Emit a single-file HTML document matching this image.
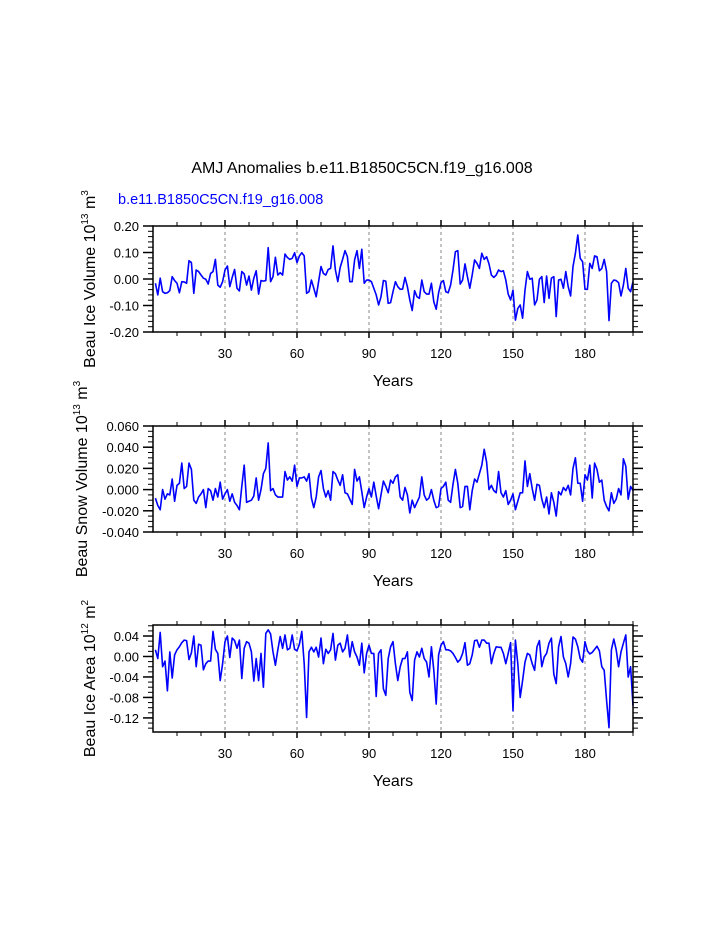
<!DOCTYPE html>
<html><head><meta charset="utf-8"><style>
html,body{margin:0;padding:0;background:#fff;}
svg{display:block;font-family:"Liberation Sans",Arial,sans-serif;}
</style></head><body>
<svg id="chart" width="723" height="935" viewBox="0 0 723 935" xmlns="http://www.w3.org/2000/svg">
<text x="362" y="173" font-size="16" text-anchor="middle" fill="#000">AMJ Anomalies b.e11.B1850C5CN.f19_g16.008</text>
<text x="118" y="204" font-size="14.5" fill="#0000ff">b.e11.B1850C5CN.f19_g16.008</text>
</svg>
<script>
const years = Array.from({length:200},(_, i)=>i+1);
const xTickLabels = ["30","60","90","120","150","180"];
const iceVolume = [-0.016,-0.060,0.003,-0.048,-0.054,-0.052,-0.044,0.009,-0.006,-0.016,-0.052,-0.010,-0.011,-0.016,0.069,0.062,-0.054,0.034,0.028,0.015,0.003,-0.001,-0.019,0.021,0.028,0.074,-0.023,-0.031,-0.010,0.034,0.049,-0.029,0.006,0.036,-0.035,-0.045,0.028,0.019,-0.023,0.011,-0.042,0.003,0.031,-0.057,-0.006,-0.008,-0.006,0.118,-0.010,0.009,0.082,0.015,0.024,0.015,0.094,0.081,0.074,0.078,0.099,0.062,0.087,0.099,0.087,-0.054,-0.048,-0.004,-0.035,-0.067,-0.010,0.047,0.021,0.015,0.036,0.040,0.125,0.034,-0.010,0.044,0.074,0.107,0.084,-0.010,-0.010,0.072,0.107,0.040,0.112,-0.016,-0.004,-0.004,-0.010,-0.035,-0.060,-0.098,-0.067,-0.006,-0.008,-0.092,-0.089,-0.048,-0.010,-0.029,-0.039,-0.038,0.006,-0.029,-0.079,-0.119,-0.044,-0.067,-0.073,-0.004,-0.048,-0.057,-0.057,-0.016,-0.086,-0.114,-0.052,-0.014,-0.006,-0.048,-0.052,-0.023,0.034,0.103,0.107,-0.019,-0.004,0.057,0.009,-0.035,0.015,0.072,0.059,0.040,0.097,0.074,0.084,0.057,0.015,0.006,0.015,0.034,0.028,0.031,-0.004,-0.057,-0.079,-0.042,-0.155,-0.111,-0.098,-0.148,-0.042,0.028,-0.001,0.003,-0.098,-0.079,-0.001,0.009,-0.089,0.011,-0.073,0.003,0.009,-0.142,-0.004,-0.001,-0.035,0.028,-0.029,-0.064,0.047,0.097,0.166,0.078,0.065,-0.039,-0.039,0.059,0.040,0.087,0.084,0.031,0.040,0.074,0.028,-0.157,-0.016,-0.004,-0.006,-0.014,-0.064,-0.023,0.040,-0.035,-0.048,-0.010];
const snowVolume = [-0.008,-0.015,-0.019,0.000,-0.009,-0.004,-0.005,0.010,-0.011,0.004,0.006,0.025,0.001,0.003,0.025,0.019,-0.010,-0.013,-0.007,-0.004,0.000,-0.017,0.001,-0.001,-0.010,0.001,-0.007,0.007,-0.009,-0.004,0.000,-0.011,-0.004,-0.012,-0.015,-0.019,0.003,0.023,-0.012,-0.011,-0.010,-0.006,0.011,-0.010,0.000,0.015,0.020,0.044,-0.001,0.001,-0.005,-0.007,-0.007,-0.007,0.017,0.009,0.012,0.008,0.023,0.003,0.011,0.011,0.012,0.008,0.015,-0.008,-0.017,-0.007,0.012,0.018,0.001,-0.007,-0.001,-0.010,0.017,0.015,0.009,0.004,0.014,-0.003,-0.004,-0.009,-0.014,0.019,0.008,0.012,-0.002,-0.017,-0.007,0.001,-0.007,0.007,-0.006,-0.018,-0.005,0.008,0.003,-0.003,0.009,0.006,0.012,0.014,-0.007,-0.010,0.002,-0.005,-0.022,-0.010,-0.017,-0.012,-0.007,0.012,-0.005,-0.010,-0.008,0.000,-0.010,-0.017,-0.016,0.001,0.003,0.007,-0.010,-0.012,0.005,0.019,0.006,-0.017,-0.016,0.003,0.003,-0.019,-0.001,0.010,0.007,0.015,0.023,0.038,0.026,0.000,0.004,-0.001,-0.003,0.017,-0.003,-0.007,-0.001,-0.014,-0.010,-0.004,-0.019,-0.011,-0.003,-0.003,0.027,0.003,0.015,0.001,-0.010,0.005,0.004,-0.009,-0.017,-0.007,-0.023,-0.003,-0.012,-0.025,-0.002,-0.005,0.002,-0.001,0.004,-0.005,0.020,0.030,0.006,0.006,-0.011,0.014,0.009,0.023,-0.008,0.025,0.019,0.007,0.009,-0.010,-0.016,-0.020,-0.003,-0.013,-0.009,0.001,-0.005,0.029,0.022,-0.009,0.003,-0.001];
const iceArea = [0.013,-0.004,0.047,-0.020,-0.009,-0.067,0.009,-0.042,0.003,0.013,0.019,0.027,0.032,0.031,-0.006,0.007,0.040,-0.020,0.024,0.022,-0.026,-0.014,-0.009,-0.009,0.049,0.014,0.006,-0.047,-0.014,0.029,0.040,-0.002,0.036,0.031,0.016,0.032,-0.043,0.016,0.029,0.026,0.009,-0.048,-0.004,-0.047,0.006,-0.060,0.045,0.052,0.044,0.009,-0.017,0.013,0.039,0.016,0.042,0.013,0.016,0.042,0.014,0.011,0.024,0.049,-0.014,-0.119,0.009,0.018,0.009,0.018,-0.001,0.036,-0.014,0.014,0.006,0.013,0.045,-0.007,0.022,0.026,0.009,0.016,0.042,-0.001,0.029,0.009,-0.001,-0.017,0.026,-0.032,0.006,0.022,0.006,0.006,-0.078,0.006,0.013,-0.063,-0.076,-0.004,0.019,0.029,-0.014,-0.047,-0.020,-0.004,-0.004,0.009,-0.070,-0.086,-0.007,0.009,-0.001,0.016,-0.004,-0.011,-0.040,0.019,-0.027,-0.093,0.003,0.022,0.029,0.013,0.013,0.011,0.006,-0.002,-0.011,-0.006,0.006,0.027,-0.017,-0.014,0.003,0.031,0.032,0.018,0.032,0.032,0.026,0.026,-0.014,0.006,0.019,0.018,0.018,0.006,-0.014,0.006,0.027,-0.106,0.032,-0.014,-0.080,-0.047,-0.011,0.006,0.003,-0.014,-0.027,0.019,0.031,-0.020,-0.001,0.006,0.026,0.036,-0.034,-0.053,0.019,0.039,-0.001,-0.014,-0.040,-0.014,0.038,0.034,0.019,-0.004,-0.011,0.029,0.011,0.005,0.008,0.014,0.020,0.011,-0.020,-0.027,-0.086,-0.139,0.013,0.034,0.013,-0.020,0.009,0.026,0.042,-0.040,-0.020,-0.096];
const iceVolTicks = [-0.20,-0.10,0.00,0.10,0.20];
const iceVolTickLabels = ["-0.20","-0.10","0.00","0.10","0.20"];
const snowTicks = [-0.04,-0.02,0.00,0.02,0.04,0.06];
const snowTickLabels = ["-0.040","-0.020","0.000","0.020","0.040","0.060"];
const areaTicks = [-0.12,-0.08,-0.04,0.00,0.04];
const areaTickLabels = ["-0.12","-0.08","-0.04","0.00","0.04"];

const NS="http://www.w3.org/2000/svg";
const svg=document.getElementById('chart');
function mk(tag,attrs,parent){const e=document.createElementNS(NS,tag);for(const k in attrs)e.setAttribute(k,attrs[k]);(parent||svg).appendChild(e);return e;}

const X0=153,X1=633,XMIN=0,XMAX=200;
function xs(v){return X0+(v-XMIN)/(XMAX-XMIN)*(X1-X0);}

function panel(cfg){
  const g=mk('g',{});
  
  
  const ys=v=>cfg.bottom-(v-cfg.ymin)/(cfg.ymax-cfg.ymin)*(cfg.bottom-cfg.top);
  // dashed verticals
  for(let v=30;v<=180;v+=30){
    const l=mk('line',{x1:xs(v),x2:xs(v),y1:cfg.top,y2:cfg.bottom,stroke:'#888','stroke-width':1,'stroke-dasharray':'3,3'},g);
    
    
  }
  // data line
  let d='';
  years.forEach((yr,i)=>{d+=(i?'L':'M')+xs(yr).toFixed(2)+','+ys(cfg.data[i]).toFixed(2);});
  const p=mk('path',{d:d,fill:'none',stroke:'#0000ff','stroke-width':1.6,'stroke-linejoin':'round'},g);
  
  
  // frame
  const r=mk('rect',{x:X0,y:cfg.top,width:X1-X0,height:cfg.bottom-cfg.top,fill:'none',stroke:'#000','stroke-width':1.5},g);
  
  
  // x ticks
  for(let v=10;v<=200;v+=10){
    const maj=(v%30===0);const len=maj?6:4;
    mk('line',{x1:xs(v),x2:xs(v),y1:cfg.bottom,y2:cfg.bottom+len,stroke:'#000','stroke-width':maj?1.5:1},g);
    mk('line',{x1:xs(v),x2:xs(v),y1:cfg.top,y2:cfg.top-len,stroke:'#000','stroke-width':maj?1.5:1},g);
  }
  xTickLabels.forEach(lab=>{
    const t=mk('text',{x:xs(+lab),y:cfg.bottom+26,'font-size':13,'text-anchor':'middle'},g);
    t.textContent=lab;
    
    
  });
  const xt=mk('text',{x:(X0+X1)/2,y:cfg.bottom+54,'font-size':16,'text-anchor':'middle'},g);
  xt.textContent='Years';
  
  
  // y minor ticks
  const nMin=Math.ceil(cfg.ymin/cfg.minor-1e-6),nMax=Math.floor(cfg.ymax/cfg.minor+1e-6);
  for(let k=nMin;k<=nMax;k++){
    const y=ys(k*cfg.minor);
    mk('line',{x1:X0,x2:X0-5,y1:y,y2:y,stroke:'#000','stroke-width':1},g);
    mk('line',{x1:X1,x2:X1+5,y1:y,y2:y,stroke:'#000','stroke-width':1},g);
  }
  cfg.ticks.forEach((v,i)=>{
    const y=ys(v);
    mk('line',{x1:X0,x2:X0-10,y1:y,y2:y,stroke:'#000','stroke-width':1.5},g);
    mk('line',{x1:X1,x2:X1+10,y1:y,y2:y,stroke:'#000','stroke-width':1.5},g);
    const t=mk('text',{x:X0-14,y:y+5,'font-size':13,'text-anchor':'end'},g);
    t.textContent=cfg.tickLabels[i];
    
    
  });
  const cy=(cfg.top+cfg.bottom)/2;
  const yt=mk('text',{transform:`translate(${cfg.ylx},${cy}) rotate(-90)`,'font-size':16,'text-anchor':'middle'},g);
  yt.innerHTML=cfg.ylabel+' 10<tspan dy="-7" font-size="10">'+cfg.exp+'</tspan><tspan dy="7"> m</tspan><tspan dy="-7" font-size="10">'+cfg.mexp+'</tspan>';
  
  
}
panel({name:'ice-volume-panel',top:226,bottom:332,ymin:-0.2,ymax:0.2,minor:0.02,ticks:iceVolTicks,tickLabels:iceVolTickLabels,data:iceVolume,ylabel:'Beau Ice Volume',exp:'13',mexp:'3',ylx:95});
panel({name:'snow-volume-panel',top:426,bottom:532,ymin:-0.04,ymax:0.06,minor:0.005,ticks:snowTicks,tickLabels:snowTickLabels,data:snowVolume,ylabel:'Beau Snow Volume',exp:'13',mexp:'3',ylx:87});
panel({name:'ice-area-panel',top:625,bottom:732,ymin:-0.1475,ymax:0.0615,minor:0.01,ticks:areaTicks,tickLabels:areaTickLabels,data:iceArea,ylabel:'Beau Ice Area',exp:'12',mexp:'2',ylx:95});
</script>
</body></html>
